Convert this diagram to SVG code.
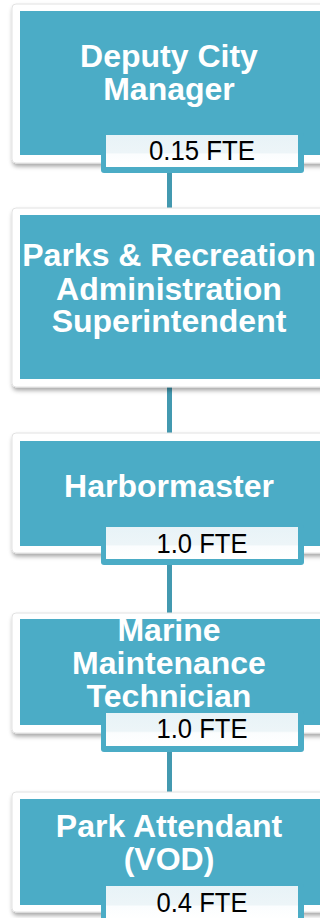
<svg xmlns="http://www.w3.org/2000/svg" width="320" height="918" viewBox="0 0 320 918">
<defs>
<filter id="sh" x="-10%" y="-10%" width="130%" height="130%">
<feDropShadow dx="1" dy="3" stdDeviation="2" flood-color="#000" flood-opacity="0.35"/>
</filter>
<linearGradient id="lg" x1="0" y1="0" x2="0" y2="1">
<stop offset="0" stop-color="#E8F3F7"/>
<stop offset="0.55" stop-color="#EDF5F8"/>
<stop offset="0.6" stop-color="#FBFDFE"/>
<stop offset="1" stop-color="#FFFFFF"/>
</linearGradient>
</defs>
<style>
.frame{fill:#FFFFFF;stroke:#E2E2E2;stroke-width:1}
.teal{fill:#4BACC6}
.lbo{fill:#4BACC6}
.lbi{fill:url(#lg)}
.t{font-family:"Liberation Sans",Arial,sans-serif;font-weight:bold;font-size:32px;fill:#FFFFFF;text-anchor:middle}
.f{font-family:"Liberation Sans",Arial,sans-serif;font-size:27px;fill:#000000;text-anchor:middle}
.c{stroke:#4399B0;stroke-width:5;fill:none}
</style>
<rect width="320" height="918" fill="#FFFFFF"/>
<g id="connectors">
<line class="c" x1="169.5" y1="170" x2="169.5" y2="210"/>
<line class="c" x1="169.5" y1="385" x2="169.5" y2="435"/>
<line class="c" x1="169.5" y1="562" x2="169.5" y2="615"/>
<line class="c" x1="169.5" y1="749" x2="169.5" y2="794"/>
</g>
<g id="n1">
<rect class="frame" x="12" y="4" width="320" height="159" rx="4" filter="url(#sh)"/>
<rect class="teal" x="20" y="11" width="310" height="144"/>
<text class="t" x="169" y="67">Deputy City</text>
<text class="t" x="169" y="100">Manager</text>
<rect class="lbo" x="101" y="133" width="203" height="40" rx="3"/>
<rect class="lbi" x="106" y="135" width="192" height="32"/>
<text class="f" x="202" y="160" textLength="106" lengthAdjust="spacingAndGlyphs">0.15 FTE</text>
</g>
<g id="n2">
<rect class="frame" x="12" y="208" width="320" height="179" rx="4" filter="url(#sh)"/>
<rect class="teal" x="20" y="215" width="310" height="164"/>
<text class="t" x="169" y="266">Parks &amp; Recreation</text>
<text class="t" x="169" y="300">Administration</text>
<text class="t" x="169" y="332">Superintendent</text>
</g>
<g id="n3">
<rect class="frame" x="12" y="433" width="320" height="120" rx="4" filter="url(#sh)"/>
<rect class="teal" x="20" y="441" width="310" height="105"/>
<text class="t" x="169" y="497">Harbormaster</text>
<rect class="lbo" x="101" y="525" width="203" height="40" rx="3"/>
<rect class="lbi" x="106" y="527" width="192" height="32"/>
<text class="f" x="202" y="553" textLength="91" lengthAdjust="spacingAndGlyphs">1.0 FTE</text>
</g>
<g id="n4">
<rect class="frame" x="12" y="613" width="320" height="120" rx="4" filter="url(#sh)"/>
<rect class="teal" x="20" y="619" width="310" height="106"/>
<text class="t" x="169" y="641">Marine</text>
<text class="t" x="169" y="674">Maintenance</text>
<text class="t" x="169" y="707">Technician</text>
<rect class="lbo" x="101" y="711" width="203" height="41" rx="3"/>
<rect class="lbi" x="106" y="713" width="192" height="33"/>
<text class="f" x="202" y="738" textLength="91" lengthAdjust="spacingAndGlyphs">1.0 FTE</text>
</g>
<g id="n5">
<rect class="frame" x="12" y="792" width="320" height="120" rx="4" filter="url(#sh)"/>
<rect class="teal" x="20" y="799" width="310" height="106"/>
<text class="t" x="169" y="837">Park Attendant</text>
<text class="t" x="169" y="870">(VOD)</text>
<rect class="lbo" x="101" y="884" width="203" height="41" rx="3"/>
<rect class="lbi" x="106" y="886" width="192" height="34"/>
<text class="f" x="202" y="912" textLength="91" lengthAdjust="spacingAndGlyphs">0.4 FTE</text>
</g>
</svg>
